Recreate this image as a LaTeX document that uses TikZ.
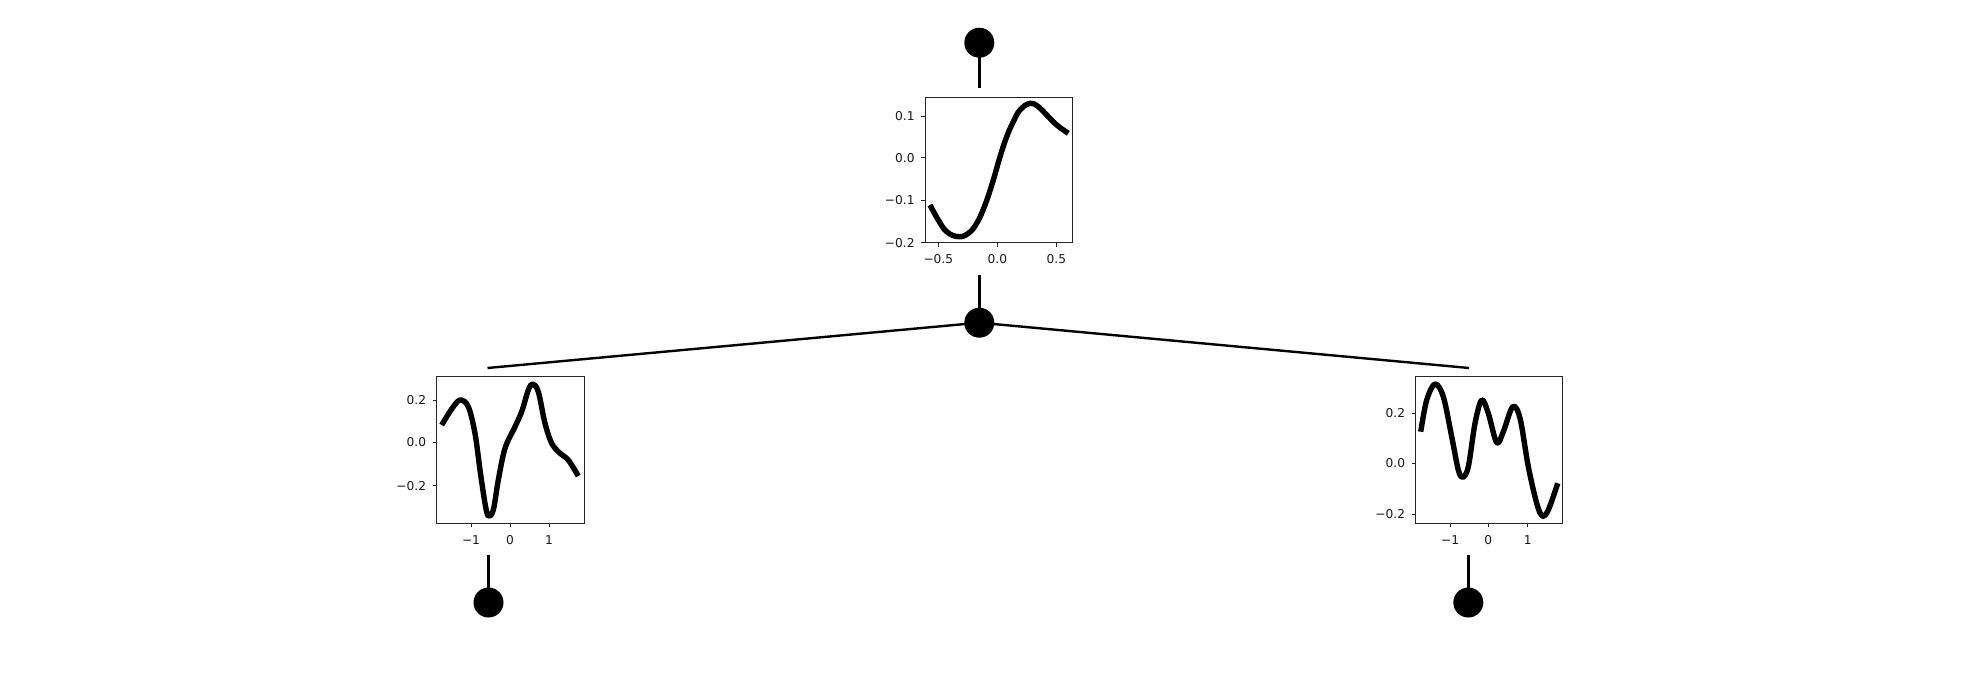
\documentclass[tikz,border=0pt]{standalone}
\usepackage{fontspec}
\setmainfont{DejaVu Sans}
\begin{document}
\begin{tikzpicture}[x=0.5pt,y=-0.5pt,
  dot/.style={circle,fill=black,draw=none,minimum size=15pt,inner sep=0pt},
  conn/.style={line width=1.2pt,black},
  frame/.style={line width=0.45pt,black!85},
  tck/.style={line width=0.45pt,black!85},
  curve/.style={line width=2.7pt,black,line join=round},
  lab/.style={inner sep=0pt,font=\fontsize{6.1}{7}\selectfont,text=black!90}]
\useasboundingbox (0,0) rectangle (1984,674);

% ---------- circles ----------
\node[dot] (top) at (979.3,42.7) {};
\node[dot] (mid) at (979.3,322.7) {};
\node[dot] (botL) at (488.5,602.5) {};
\node[dot] (botR) at (1468.3,602.5) {};

\coordinate (topA) at (979.3,88.3);
\coordinate (topB) at (979.3,275);
\coordinate (leftA) at (487.5,368);
\coordinate (leftB) at (488.5,555);
\coordinate (rightA) at (1469,368);
\coordinate (rightB) at (1468.3,555);

\draw[conn] (top.center) -- (topA);
\draw[conn] (topB) -- (mid.center);
\draw[conn] (mid.center) -- (leftA);
\draw[conn] (mid.center) -- (rightA);
\draw[conn] (leftB) -- (botL.center);
\draw[conn] (rightB) -- (botR.center);

% ---------- top plot ----------
\draw[curve] plot[smooth,tension=0.7] coordinates {
 (930,205) (938.3,220) (946.7,231.7) (958.3,236.7) (968.3,233.3)
 (976.7,223.3) (985,205) (993.3,180) (1000,156.7) (1006.7,136.7)
 (1013.3,121.7) (1020,110) (1030,103.3) (1038.3,106.7) (1046.7,115)
 (1056.7,125) (1068.3,133.3)};
\draw[frame] (925.3,97.3) rectangle (1072.7,242.7);
\foreach \x/\t in {938.3/{−0.5},997.3/{0.0},1056.3/{0.5}}{
  \draw[tck] (\x,242.7) -- (\x,246.7);
  \node[lab,anchor=north] at (\x,254.3) {\t};}
\foreach \y/\t in {116/{0.1},157.7/{0.0},200.3/{−0.1},242.7/{−0.2}}{
  \draw[tck] (921.3,\y) -- (925.3,\y);
  \node[lab,anchor=east] at (915,\y) {\t};}

% ---------- left plot ----------
\draw[curve] plot[smooth,tension=0.55] coordinates {
 (441.7,425) (451.7,409) (460,400) (468.3,406.7) (475,433.3) (480,470)
 (485,503.3) (488.3,516) (493.3,510) (498.3,480) (505,448.3) (515,426.7)
 (521.7,411.7) (528.3,390) (532.7,384) (538.3,391.7) (545,423.3)
 (551.7,443.3) (560,453.3) (568.3,460) (578.3,476)};
\draw[frame] (436.7,376.7) rectangle (584,523.3);
\foreach \x/\t in {471/{−1},510/{0},549/{1}}{
  \draw[tck] (\x,523.3) -- (\x,527.3);
  \node[lab,anchor=north] at (\x,535) {\t};}
\foreach \y/\t in {400/{0.2},442.3/{0.0},485.7/{−0.2}}{
  \draw[tck] (432.7,\y) -- (436.7,\y);
  \node[lab,anchor=east] at (426.5,\y) {\t};}

% ---------- right plot ----------
\draw[curve] plot[smooth,tension=0.55] coordinates {
 (1420.7,431.7) (1426.7,400) (1435,384) (1443.3,396.7) (1451.7,436.7)
 (1458.3,470) (1462.7,477.3) (1468.3,466.7) (1475,423.3) (1481.7,400)
 (1488.3,413.3) (1496.7,442.7) (1503.3,431.7) (1512.7,406.7) (1520,418.3)
 (1528.3,466.7) (1536.7,503.3) (1542.3,516) (1548.3,510) (1557.7,483.3)};
\draw[frame] (1415.7,376.7) rectangle (1562.7,523.3);
\foreach \x/\t in {1450/{−1},1488.3/{0},1527.7/{1}}{
  \draw[tck] (\x,523.3) -- (\x,527.3);
  \node[lab,anchor=north] at (\x,535) {\t};}
\foreach \y/\t in {413.3/{0.2},463.3/{0.0},514/{−0.2}}{
  \draw[tck] (1411.7,\y) -- (1415.7,\y);
  \node[lab,anchor=east] at (1405.5,\y) {\t};}
\end{tikzpicture}
\end{document}
